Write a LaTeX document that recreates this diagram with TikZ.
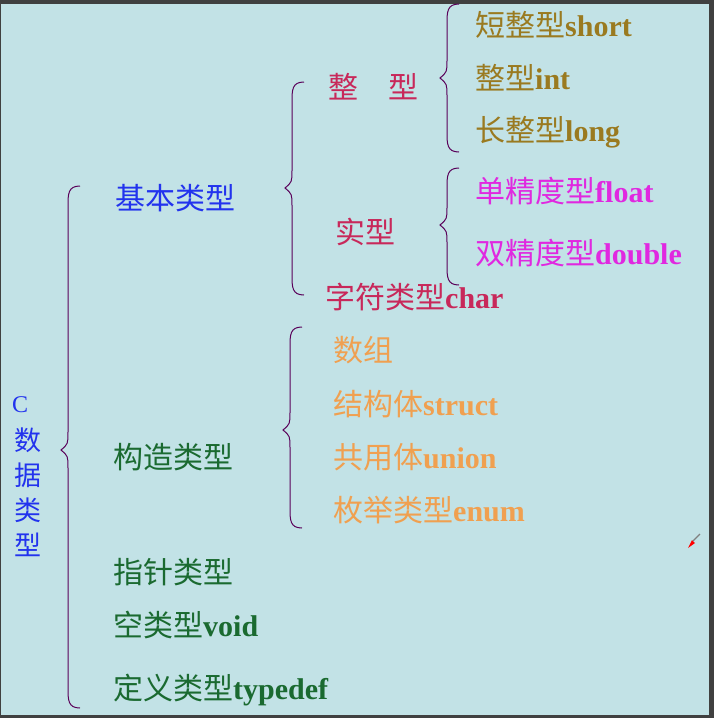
\documentclass[tikz,border=0pt]{standalone}
\usepackage{fontspec}
\setmainfont{Liberation Serif}
\newfontfamily\cjk{Noto Sans CJK SC}
\begin{document}
\begin{tikzpicture}[x=1pt,y=-1pt,
  t/.style={anchor=west,inner sep=0pt,font=\fontsize{30}{32}\selectfont\bfseries},
  tc/.style={anchor=west,inner sep=0pt,font=\fontsize{30}{32}\selectfont\cjk},
  br/.style={draw=violet!70!black,line width=1pt}]
\definecolor{bg}{HTML}{C2E2E6}
\definecolor{cblue}{HTML}{2233EE}
\definecolor{ccrim}{HTML}{C8285A}
\definecolor{colive}{HTML}{9A7A20}
\definecolor{cmag}{HTML}{E028E0}
\definecolor{corg}{HTML}{F0A050}
\definecolor{cgreen}{HTML}{1A6A30}
\useasboundingbox (0,0) rectangle (714,718);
\fill[black!75] (0,0) rectangle (714,718);
\fill[bg] (1,4) rectangle (709,715);
\newcommand\mybrace[4]{%
 \draw[br] ({#1+12},#2) .. controls (#1,#2) and (#1,{#2+8}) .. (#1,{#2+20})
   -- (#1,{#3-18}) .. controls (#1,{#3-6}) .. ({#1-7},#3)
   .. controls (#1,{#3+6}) .. (#1,{#3+18})
   -- (#1,{#4-20}) .. controls (#1,{#4-8}) and (#1,#4) .. ({#1+12},#4);}
\mybrace{68}{186}{450}{708}
\mybrace{292}{82}{188}{295}
\mybrace{447}{4}{78}{152}
\mybrace{447}{168}{225}{285}
\mybrace{290}{327}{430}{528}
\node[t,text=cblue,font=\fontsize{24}{26}\selectfont] (c) at (12,405) {C};
\node[tc,text=cblue,align=center,font=\fontsize{27}{35}\selectfont\cjk] (sj) at (14,492) {数\\据\\类\\型};
\node[tc,text=cblue] (jb) at (115,198) {基本类型};
\node[tc,text=ccrim] (zx) at (328,87) {整\hspace{1em}型};
\node[tc,text=ccrim] (sx) at (335,232) {实型};
\node[t,text=ccrim] (zf) at (325,297) {{\cjk\mdseries 字符类型}char};
\node[t,text=colive] (s1) at (475,25) {{\cjk\mdseries 短整型}short};
\node[t,text=colive] (s2) at (475,78) {{\cjk\mdseries 整型}int};
\node[t,text=colive] (s3) at (475,132) {{\cjk\mdseries 长整型}long};
\node[t,text=cmag] (f1) at (475,191) {{\cjk\mdseries 单精度型}float};
\node[t,text=cmag] (f2) at (475,253) {{\cjk\mdseries 双精度型}double};
\node[tc,text=corg] (g1) at (333,350) {数组};
\node[t,text=corg] (g2) at (333,404) {{\cjk\mdseries 结构体}struct};
\node[t,text=corg] (g3) at (333,457) {{\cjk\mdseries 共用体}union};
\node[t,text=corg] (g4) at (333,510) {{\cjk\mdseries 枚举类型}enum};
\node[tc,text=cgreen] (gz) at (113,457) {构造类型};
\node[tc,text=cgreen] (zz) at (113,572) {指针类型};
\node[t,text=cgreen] (kl) at (113,625) {{\cjk\mdseries 空类型}void};
\node[t,text=cgreen] (dy) at (113,690) {{\cjk\mdseries 定义类型}typedef};
% cursor
\fill[red] (688,548) -- (692,540) -- (695,543) -- cycle;
\draw[gray,line width=1.2pt] (693,541) -- (700,534);
\end{tikzpicture}
\end{document}
